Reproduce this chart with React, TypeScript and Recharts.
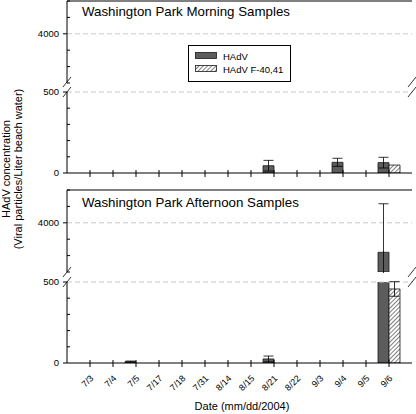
import React from 'react';
import { BarChart, Bar, XAxis, YAxis, ErrorBar, ReferenceLine } from 'recharts';

const dates = ['7/3', '7/4', '7/5', '7/17', '7/18', '7/31', '8/14', '8/15', '8/21', '8/22', '9/3', '9/4', '9/5', '9/6'];

const morningHAdV = [0, 0, 0, 0, 0, 0, 0, 0, 45, 0, 0, 66, 0, 64];
const morningHAdVErr = [0, 0, 0, 0, 0, 0, 0, 0, 33, 0, 0, 25, 0, 33];
const morningF4041 = [0, 0, 0, 0, 0, 0, 0, 0, 0, 0, 0, 0, 0, 49];
const morningF4041Err = [0, 0, 0, 0, 0, 0, 0, 0, 0, 0, 0, 0, 0, 0];

const afternoonHAdV = [0, 0, 8, 0, 0, 0, 0, 0, 25, 0, 0, 0, 0, 3100];
const afternoonHAdVErr = [0, 0, 4, 0, 0, 0, 0, 0, 18, 0, 0, 0, 0, 1480];
const afternoonF4041 = [0, 0, 0, 0, 0, 0, 0, 0, 0, 0, 0, 0, 0, 457];
const afternoonF4041Err = [0, 0, 0, 0, 0, 0, 0, 0, 0, 0, 0, 0, 0, 45];

const upperTicks = [2500, 3000, 3500, 4000, 4500, 5000];
const lowerTicks = [0, 100, 200, 300, 400, 500];
const labelledTicks = [0, 500, 4000];

const seriesNames = ['HAdV', 'HAdV F-40,41'];

const DARK = '#5c5c5c';
const FONT = '"Liberation Sans", Arial, Helvetica, sans-serif';

// one panel is split in two stacked charts (broken axis)
const buildRows = (hadv: number[], hadvErr: number[], f: number[], fErr: number[], min: number) =>
  dates.map((date, i) => {
    const keepH = min === 0 || hadv[i] > min;
    const keepF = min === 0 || f[i] > min;
    return {
      date,
      hadv: keepH ? hadv[i] : null,
      hadvErr: keepH ? hadvErr[i] : null,
      f4041: keepF ? f[i] : null,
      f4041Err: keepF ? fErr[i] : null,
    };
  });

const YTick = (props: any) => {
  const { x, y, payload } = props;
  const major = labelledTicks.includes(payload.value);
  return (
    <g>
      {major ? (
        <>
          <line x1={x - 4} x2={x} y1={y} y2={y} stroke="#000" />
          <text x={x - 8} y={y} dy={3.4} textAnchor="end" fontSize={9.5} fill="#000">
            {payload.value}
          </text>
        </>
      ) : (
        <line x1={x} x2={x + 3} y1={y} y2={y} stroke="#000" />
      )}
    </g>
  );
};

const DateTick = (props: any) => {
  const { x, y, payload, showLabel } = props;
  return (
    <g>
      <line x1={x} x2={x} y1={y - 3} y2={y + 4} stroke="#000" />
      {showLabel && (
        <text
          x={x + 4}
          y={y + 16}
          transform={`rotate(-45 ${x + 4} ${y + 16})`}
          textAnchor="end"
          fontSize={9}
          fill="#000"
        >
          {payload.value}
        </text>
      )}
    </g>
  );
};

interface SegmentProps {
  rows: any[];
  plotTop: number;
  plotHeight: number;
  upper: boolean;
  labels?: boolean;
  axisHeight?: number;
}

const Segment = ({ rows, plotTop, plotHeight, upper, labels = false, axisHeight = 6 }: SegmentProps) => {
  const mt = 9;
  const height = mt + plotHeight + (upper ? 1 : axisHeight);
  const domain = upper ? [2500, 5000] : [0, 500];
  return (
    <div style={{ position: 'absolute', left: 0, top: plotTop - mt }}>
      <BarChart
        width={416}
        height={height}
        data={rows}
        margin={{ top: mt, right: 4, bottom: upper ? 1 : 0, left: 0 }}
        barCategoryGap={0.5}
        barGap={0}
      >
        <XAxis
          dataKey="date"
          hide={upper}
          height={axisHeight}
          padding={{ left: 11.5, right: 11.5 }}
          interval={0}
          tickSize={0}
          tickMargin={0}
          tickLine={false}
          axisLine={{ stroke: '#000' }}
          tick={(p: any) => <DateTick {...p} showLabel={labels} />}
          label={
            labels
              ? { value: 'Date (mm/dd/2004)', position: 'insideBottom', offset: 3, dx: 2.5, fontSize: 11, fill: '#000' }
              : undefined
          }
        />
        <YAxis
          type="number"
          domain={domain}
          ticks={upper ? upperTicks : lowerTicks}
          allowDataOverflow
          interval={0}
          width={67}
          tickSize={0}
          tickMargin={0}
          tickLine={false}
          axisLine={{ stroke: '#000' }}
          tick={(p: any) => <YTick {...p} />}
        />
        <YAxis yAxisId="frame" orientation="right" width={0} tick={false} tickLine={false} axisLine={{ stroke: '#000' }} />
        <ReferenceLine y={upper ? 4000 : 500} stroke="#c8c8c8" strokeDasharray="5 3" />
        {upper && <ReferenceLine y={5000} stroke="#000" />}
        <Bar dataKey="hadv" name={seriesNames[0]} fill={DARK} stroke="#1a1a1a" strokeWidth={0.8} isAnimationActive={false}>
          <ErrorBar dataKey="hadvErr" width={5} stroke="#000" strokeWidth={0.8} isAnimationActive={false} />
        </Bar>
        <Bar dataKey="f4041" name={seriesNames[1]} fill="url(#hatch)" stroke="#1a1a1a" strokeWidth={0.8} isAnimationActive={false}>
          <ErrorBar dataKey="f4041Err" width={5} stroke="#000" strokeWidth={0.8} isAnimationActive={false} />
        </Bar>
      </BarChart>
    </div>
  );
};

const Slash = ({ x, y }: { x: number; y: number }) => (
  <line x1={x - 4} y1={y + 5} x2={x + 4} y2={y - 5} stroke="#000" strokeWidth={0.8} />
);

const Legend = () => (
  <div
    style={{
      position: 'absolute',
      left: 188,
      top: 45,
      width: 101,
      height: 35,
      border: '1px solid #000',
      background: '#fff',
      fontSize: 9.5,
      color: '#000',
    }}
  >
    {seriesNames.map((name, i) => (
      <div key={name} style={{ position: 'absolute', left: 6, top: 5 + i * 13, display: 'flex', alignItems: 'center', height: 10 }}>
        <svg width={23} height={8}>
          <rect x={0.5} y={0.5} width={21} height={6} fill={i === 0 ? DARK : 'url(#hatch)'} stroke="#1a1a1a" strokeWidth={0.8} />
        </svg>
        <span style={{ marginLeft: 5 }}>{name}</span>
      </div>
    ))}
  </div>
);

export default function App() {
  const morningUpper = buildRows(morningHAdV, morningHAdVErr, morningF4041, morningF4041Err, 2500);
  const morningLower = buildRows(morningHAdV, morningHAdVErr, morningF4041, morningF4041Err, 0);
  const afternoonUpper = buildRows(afternoonHAdV, afternoonHAdVErr, afternoonF4041, afternoonF4041Err, 2500);
  const afternoonLower = buildRows(afternoonHAdV, afternoonHAdVErr, afternoonF4041, afternoonF4041Err, 0);

  return (
    <div style={{ position: 'absolute', left: 0, top: 0, width: 416, height: 414, background: '#fff', fontFamily: FONT, overflow: 'hidden' }}>
      <svg width={0} height={0} style={{ position: 'absolute' }}>
        <defs>
          <pattern id="hatch" patternUnits="userSpaceOnUse" width={3} height={3} patternTransform="rotate(45)">
            <rect width={3} height={3} fill="#fff" />
            <line x1={0} y1={0} x2={0} y2={3} stroke="#000" strokeWidth={1} />
          </pattern>
        </defs>
      </svg>

      <Segment rows={morningUpper} plotTop={0.5} plotHeight={82} upper />
      <Segment rows={morningLower} plotTop={92} plotHeight={81} upper={false} axisHeight={6} />
      <Segment rows={afternoonUpper} plotTop={190} plotHeight={82} upper />
      <Segment rows={afternoonLower} plotTop={282} plotHeight={81} upper={false} labels axisHeight={50} />

      <svg width={416} height={414} style={{ position: 'absolute', left: 0, top: 0, pointerEvents: 'none' }}>
        <text x={82} y={15.5} fontSize={13.3} fill="#000">Washington Park Morning Samples</text>
        <text x={82} y={206.5} fontSize={13.3} fill="#000">Washington Park Afternoon Samples</text>
        <text x={10} y={169} transform="rotate(-90 10 169)" textAnchor="middle" fontSize={11} fill="#000">
          HAdV concentration
        </text>
        <text x={21.5} y={169} transform="rotate(-90 21.5 169)" textAnchor="middle" fontSize={11} fill="#000">
          (Viral particles/Liter beach water)
        </text>
        <Slash x={67} y={82} />
        <Slash x={67} y={92} />
        <Slash x={412} y={82} />
        <Slash x={412} y={92} />
        <Slash x={67} y={272} />
        <Slash x={67} y={282} />
        <Slash x={412} y={272} />
        <Slash x={412} y={282} />
      </svg>

      <Legend />
    </div>
  );
}
